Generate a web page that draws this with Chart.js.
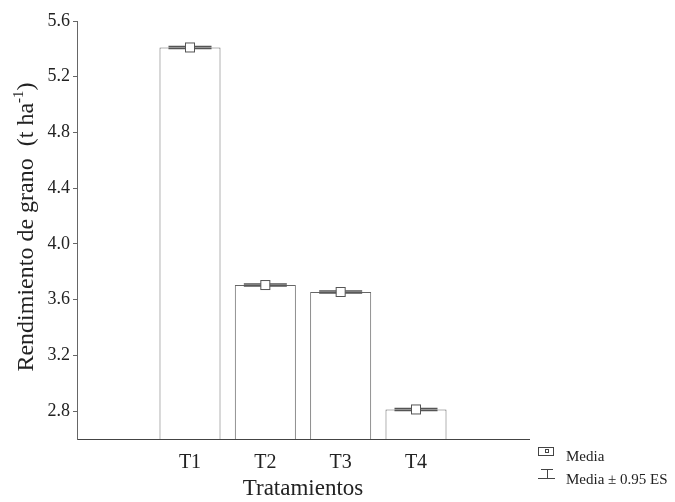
<!DOCTYPE html>
<html>
<head>
<meta charset="utf-8">
<script src="https://cdn.jsdelivr.net/npm/chart.js@4/dist/chart.umd.min.js"></script>
<style>
  html, body { margin: 0; padding: 0; background: #fff; }
  canvas { display: block; }
</style>
</head>
<body>
<canvas id="yieldChart" width="675" height="502"></canvas>
<script>
// data
var categories = ['T1', 'T2', 'T3', 'T4'];
var means = [5.41, 3.705, 3.655, 2.812];
var errs = [0.007, 0.007, 0.007, 0.007];
var yTicks = [2.8, 3.2, 3.6, 4.0, 4.4, 4.8, 5.2, 5.6];

// empty slot on each side, as in the original axis
var labels = [''].concat(categories, ['']);
var values = [null].concat(means, [null]);
var errors = [null].concat(errs, [null]);

var serif = '"Liberation Serif", "Times New Roman", serif';

var extras = {
  id: 'extras',
  afterDatasetsDraw: function (chart) {
    var c = chart.ctx, y = chart.scales.y, meta = chart.getDatasetMeta(0);
    c.save();
    // error bars + mean marker
    meta.data.forEach(function (bar, i) {
      if (values[i] == null) return;
      var x = bar.x, half = 21.5;
      var yHi = y.getPixelForValue(values[i] + errors[i]);
      var yLo = y.getPixelForValue(values[i] - errors[i]);
      c.strokeStyle = '#555';
      c.lineWidth = 1.6;
      c.beginPath();
      c.moveTo(x - half, yHi); c.lineTo(x + half, yHi);
      c.moveTo(x - half, yLo); c.lineTo(x + half, yLo);
      c.moveTo(x, yHi); c.lineTo(x, yLo);
      c.stroke();
      var ym = y.getPixelForValue(values[i]);
      c.fillStyle = '#fff';
      c.strokeStyle = '#555';
      c.lineWidth = 1;
      c.fillRect(x - 4.5, ym - 4.5, 9, 9);
      c.strokeRect(x - 4.5, ym - 4.5, 9, 9);
    });

    // axis titles
    c.fillStyle = '#222';
    c.font = '23px ' + serif;
    c.textAlign = 'center';
    c.textBaseline = 'alphabetic';
    var xs = chart.scales.x;
    c.fillText('Tratamientos', (xs.left + xs.right) / 2, 495);

    c.save();
    c.translate(33, 227);
    c.rotate(-Math.PI / 2);
    var main = 'Rendimiento de grano  (t ha';
    c.font = '24px ' + serif;
    var w1 = c.measureText(main).width;
    c.font = '15px ' + serif;
    var w2 = c.measureText('-1').width;
    c.font = '24px ' + serif;
    var w3 = c.measureText(')').width;
    var start = -(w1 + w2 + w3) / 2;
    c.textAlign = 'left';
    c.fillText(main, start, 0);
    c.font = '15px ' + serif;
    c.fillText('-1', start + w1, -10);
    c.font = '24px ' + serif;
    c.fillText(')', start + w1 + w2, 0);
    c.restore();

    // legend
    c.strokeStyle = '#444';
    c.lineWidth = 1;
    c.strokeRect(538.5, 447.5, 15, 8);
    c.strokeRect(545.5, 449.5, 3, 3);
    c.beginPath();
    c.moveTo(541, 469.5); c.lineTo(553, 469.5);
    c.moveTo(547.5, 469.5); c.lineTo(547.5, 478.5);
    c.moveTo(538, 478.5); c.lineTo(555, 478.5);
    c.stroke();
    c.fillStyle = '#222';
    c.font = '15px ' + serif;
    c.textAlign = 'left';
    c.fillText('Media', 566, 461);
    c.fillText('Media \u00b1 0.95 ES', 566, 484);
    c.restore();
  }
};

var ctx = document.getElementById('yieldChart').getContext('2d');
var chart = new Chart(ctx, {
  type: 'bar',
  data: {
    labels: labels,
    datasets: [{
      data: values,
      backgroundColor: '#fff',
      borderColor: '#666',
      borderWidth: 1,
      barPercentage: 0.81,
      categoryPercentage: 1
    }]
  },
  options: {
    responsive: false,
    maintainAspectRatio: false,
    animation: false,
    devicePixelRatio: 1,
    layout: { padding: { top: 21, right: 146, left: 0, bottom: 0 } },
    plugins: { legend: { display: false }, tooltip: { enabled: false } },
    scales: {
      x: {
        grid: { drawOnChartArea: false, drawTicks: false },
        border: { display: true, color: '#444', width: 1 },
        ticks: {
          color: '#222', font: { family: serif, size: 20 }, padding: 12,
          maxRotation: 0, minRotation: 0, autoSkip: false
        },
        afterFit: function (s) { s.height = 63; }
      },
      y: {
        min: 2.6,
        max: 5.6,
        grid: { drawOnChartArea: false, drawTicks: true, tickLength: 4, color: '#666' },
        border: { display: true, color: '#666', width: 1 },
        ticks: {
          color: '#222',
          font: { family: serif, size: 18 },
          padding: 3,
          callback: function (v) { return Number(v).toFixed(1); }
        },
        afterBuildTicks: function (s) {
          s.ticks = yTicks.map(function (v) { return { value: v }; });
        },
        afterFit: function (s) { s.width = 77; }
      }
    }
  },
  plugins: [extras]
});
</script>
</body>
</html>
